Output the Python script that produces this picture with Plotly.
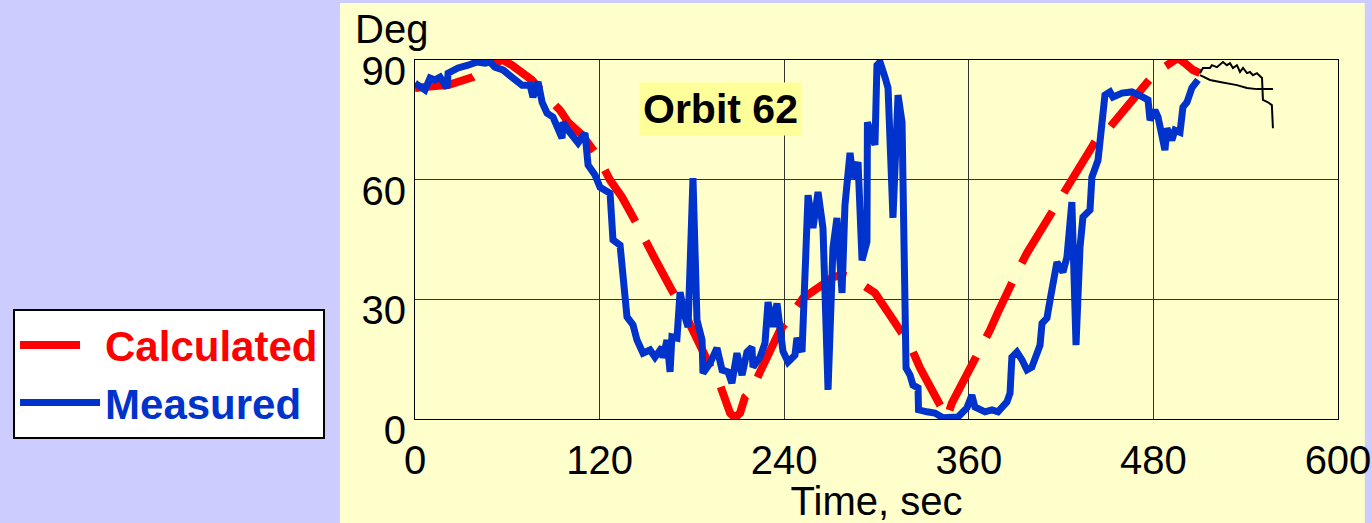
import plotly.graph_objects as go

# ---- data ----
meas_t = [0, 6.5, 9.8, 13, 16.3, 20.8, 21.5, 28, 34.5, 40.3, 45.5, 48.8, 52, 57.2, 63, 69.6, 74.8, 76.7,
          80, 82.6, 85.8, 89.7, 95.6, 96.2, 99.5, 106, 110.5, 112.5, 117, 120.3, 126.8, 128.7, 133.3,
          137.8, 141.7, 144.3, 148.2, 152.8, 156, 160.6, 161.2, 163.8, 165.8, 167, 170.3, 172.3, 175.5,
          177.5, 180.7, 183.3, 186.6, 187.2, 191.8, 196.3, 199.6, 203.5, 206, 209.3, 212.6, 215.8, 219,
          219.7, 224.3, 227.5, 229.5, 232.7, 235.3, 239.2, 242.5, 247, 248.3, 251.6, 255.5, 258.7, 262,
          265.2, 268.5, 271.7, 274.3, 277.6, 279.5, 282.8, 284.7, 288, 290.6, 293.8, 294.1, 299, 300.3,
          302.3, 305.5, 307.5, 310.7, 314, 316.6, 319.2, 321.8, 323.7, 327, 327.3, 332.8, 338, 343.2,
          353, 358.8, 362, 364, 370.5, 375, 379, 384.8, 386.8, 388, 391.3, 394.6, 397.8, 401, 404.3,
          406.3, 407.6, 410.8, 412.8, 417.3, 421.2, 423.8, 427, 429.7, 432.3, 434.2, 438.8, 440, 444,
          446.6, 448.5, 451.8, 453.7, 459.6, 466, 473.2, 476.5, 477.8, 481, 483, 487.5, 488.8, 492, 494,
          497.3, 499.2, 501.8, 505, 509]
meas_deg = [84.2, 82.5, 85.5, 85, 85.7, 83, 86.7, 88, 88.7, 89.5, 89.2, 89.5, 88.2, 87.5, 85.7, 83.7, 83.7,
            80.7, 84.5, 79.4, 76.7, 75.7, 70.4, 74.4, 72.4, 69.2, 71.7, 63.7, 61.2, 58.1, 56.6, 44.9, 43.6,
            25.6, 23.6, 19.8, 16.5, 17.3, 15.5, 18, 15.3, 19.8, 11.8, 20.6, 20.3, 31.8, 25.6,
            23.1, 60.4, 24.8, 19.8, 11.5, 14, 17.8, 12.3, 11.8, 9, 16.5, 11, 16.8, 18,
            13, 15.5, 19, 29.3, 23.1, 29, 17, 14.3, 16, 20.3, 16.8, 56.1, 47.9, 56.9,
            47.9, 7.3, 42.9, 50.4, 31.6, 53.6, 66.7, 60.4, 64.4, 39.8, 44.4, 74.4, 68.7, 88.7,
            89.5, 85.7, 83, 50.4, 81.2, 74.4, 12.8, 11, 8.5, 7.8, 2.3, 1.8, 1.5, 0.3,
            0.5, 2.8, 6, 3, 1.8, 2.3, 1.8, 4.3, 6.5, 15.5, 16.8, 14.8, 12.3, 13, 16.5,
            18.5, 24, 25.3, 29.8, 39.3, 36.8, 40.6, 54.4, 18.5, 43.1, 50.6, 52.4, 60.6, 64.9,
            73.2, 81.2, 82, 80.7, 81.7, 82, 80.7, 80, 74.9, 77.4, 75.7, 67.4, 72.9, 69.9, 72.4,
            71.9, 78.2, 79.4, 83, 85]

calc_t = [0, 6.5, 13, 21.5, 28, 37.7, 53.3, 57.2, 63, 69.6, 76, 82.6, 94.3, 99.5, 108.6, 118.3, 126.8,
          134.6, 141, 146.3, 154.7, 160.6, 165.8, 173.6, 180.7, 187.2, 193, 198.3, 204.8, 208, 211.3,
          214.5, 219, 224.3, 230.8, 237.3, 243.8, 252.2, 266.5, 271.7, 277.6, 282.8, 291.2, 299, 308.8,
          316.6, 321.8, 328.3, 336.7, 341.3, 345.8, 349, 354.3, 362, 368.6, 373.8, 379, 386.8, 392,
          397.8, 405, 414.7, 420.6, 427.7, 434.2, 444, 451.8, 460.2, 469.3, 481, 486.2, 492.7, 496,
          500.5, 505.7, 510.3]
calc_deg = [83, 83, 83.5, 83.7, 84.5, 85.7, 89.5, 90, 88.7, 86.7, 85, 82, 77.4, 74.4, 71.2, 66.2, 59.9,
            55.6, 51.6, 47.4, 41.1, 37.3, 33.1, 27.8, 21.8, 16.5, 12.3, 8.5, 1.5, 0.3, 1.5,
            5.5, 7.3, 11.8, 17.3, 22.3, 25.6, 30.3, 34.1, 35.6, 36.1, 35.6, 33.6, 31.6, 26,
            21, 18.5, 12.8, 6.8, 3, 0.3, 4, 7.8, 13.5, 18, 22.3, 26.8, 33.6, 37.3,
            41.6, 46.1, 52.4, 56.6, 61.2, 64.9, 70.7, 73.2, 76.9, 81.2, 86.7, 88, 90, 90.5,
            89.2, 87.5, 86.7]

tail_a_t = [510.3, 512.2, 516.8, 518, 521.3, 524.6, 525.2, 527.8, 529.8, 531.7, 534.3, 536.3, 538.3,
            540.8, 542.8, 544.7, 547.3, 550.6, 551.2, 554.5, 557, 557.7]
tail_a_deg = [86.7, 88, 88, 88.7, 88.2, 89.2, 89.5, 88.7, 89.2, 88, 88.7, 87, 88,
              86.7, 87, 86.2, 86.7, 85.5, 80, 79.4, 78.7, 72.9]
tail_b_t = [510.3, 516.8, 523.3, 527.8, 534.3, 540.8, 547.3, 557.7]
tail_b_deg = [86.2, 85, 84.5, 84.2, 83.7, 83, 82.7, 82.7]

x_ticks = [0, 120, 240, 360, 480, 600]
y_ticks = [0, 30, 60, 90]

RED = "#ff0000"
BLUE = "#0033cc"
FONT = "Liberation Sans, Arial, sans-serif"

fig = go.Figure()
fig.add_trace(go.Scatter(x=calc_t, y=calc_deg, mode="lines",
                         name='<span style="color:#ff0000">Calculated</span>',
                         line=dict(color=RED, width=8, dash="60px,22px"), cliponaxis=False))
fig.add_trace(go.Scatter(x=meas_t, y=meas_deg, mode="lines",
                         name='<span style="color:#0033cc">Measured</span>',
                         line=dict(color=BLUE, width=7), cliponaxis=False))
fig.add_trace(go.Scatter(x=tail_a_t, y=tail_a_deg, mode="lines", showlegend=False,
                         line=dict(color="black", width=2)))
fig.add_trace(go.Scatter(x=tail_b_t, y=tail_b_deg, mode="lines", showlegend=False,
                         line=dict(color="black", width=2)))

fig.update_layout(
    width=1372, height=523,
    autosize=False,
    margin=dict(l=415, r=34, t=60, b=104, autoexpand=False),
    paper_bgcolor="#ccccff",
    plot_bgcolor="#ffffcc",
    font=dict(family=FONT, size=40, color="black"),
    showlegend=True,
    legend=dict(xref="container", yref="container", x=0.0095, y=0.409,
                xanchor="left", yanchor="top",
                bgcolor="white", bordercolor="black", borderwidth=2,
                font=dict(family=FONT, size=42, weight="bold"),
                itemwidth=80, tracegroupgap=0),
    shapes=[dict(type="rect", xref="paper", yref="paper",
                 x0=-0.0813, x1=1.029, y0=-0.35, y1=1.159,
                 fillcolor="#ffffcc", line=dict(width=0), layer="below")],
    annotations=[
        dict(text="Deg", xref="paper", yref="paper", x=-0.0672, y=1.085,
             xanchor="left", yanchor="middle", showarrow=False,
             font=dict(family=FONT, size=40, color="black")),
        dict(text="<b>Orbit 62</b>", xref="x", yref="y", x=198.3, y=77.7,
             xanchor="center", yanchor="middle", showarrow=False,
             bgcolor="#ffff99", borderpad=3,
             font=dict(family=FONT, size=41, color="black")),
    ],
)
fig.update_xaxes(range=[0, 600], tickvals=x_ticks, showgrid=True, gridcolor="#333333", gridwidth=1,
                 showline=True, linecolor="black", linewidth=1, mirror=True, zeroline=False,
                 ticks="", tickfont=dict(size=40), ticklabelstandoff=6, automargin=False,
                 title=dict(text="Time, sec", font=dict(size=40), standoff=0))
fig.update_yaxes(range=[0, 90], tickvals=y_ticks, showgrid=True, gridcolor="#333333", gridwidth=1,
                 showline=True, linecolor="black", linewidth=1, mirror=True, zeroline=False,
                 ticks="", tickfont=dict(size=40), ticklabelshift=11, automargin=False)

fig.write_html(
    "out.html",
    config={"responsive": False, "displayModeBar": False},
    post_script=("document.documentElement.style.overflow='hidden';"
                 "document.body.style.overflow='hidden';"
                 "document.body.style.margin='0px';"
                 "document.body.style.background='#ccccff';"),
)
